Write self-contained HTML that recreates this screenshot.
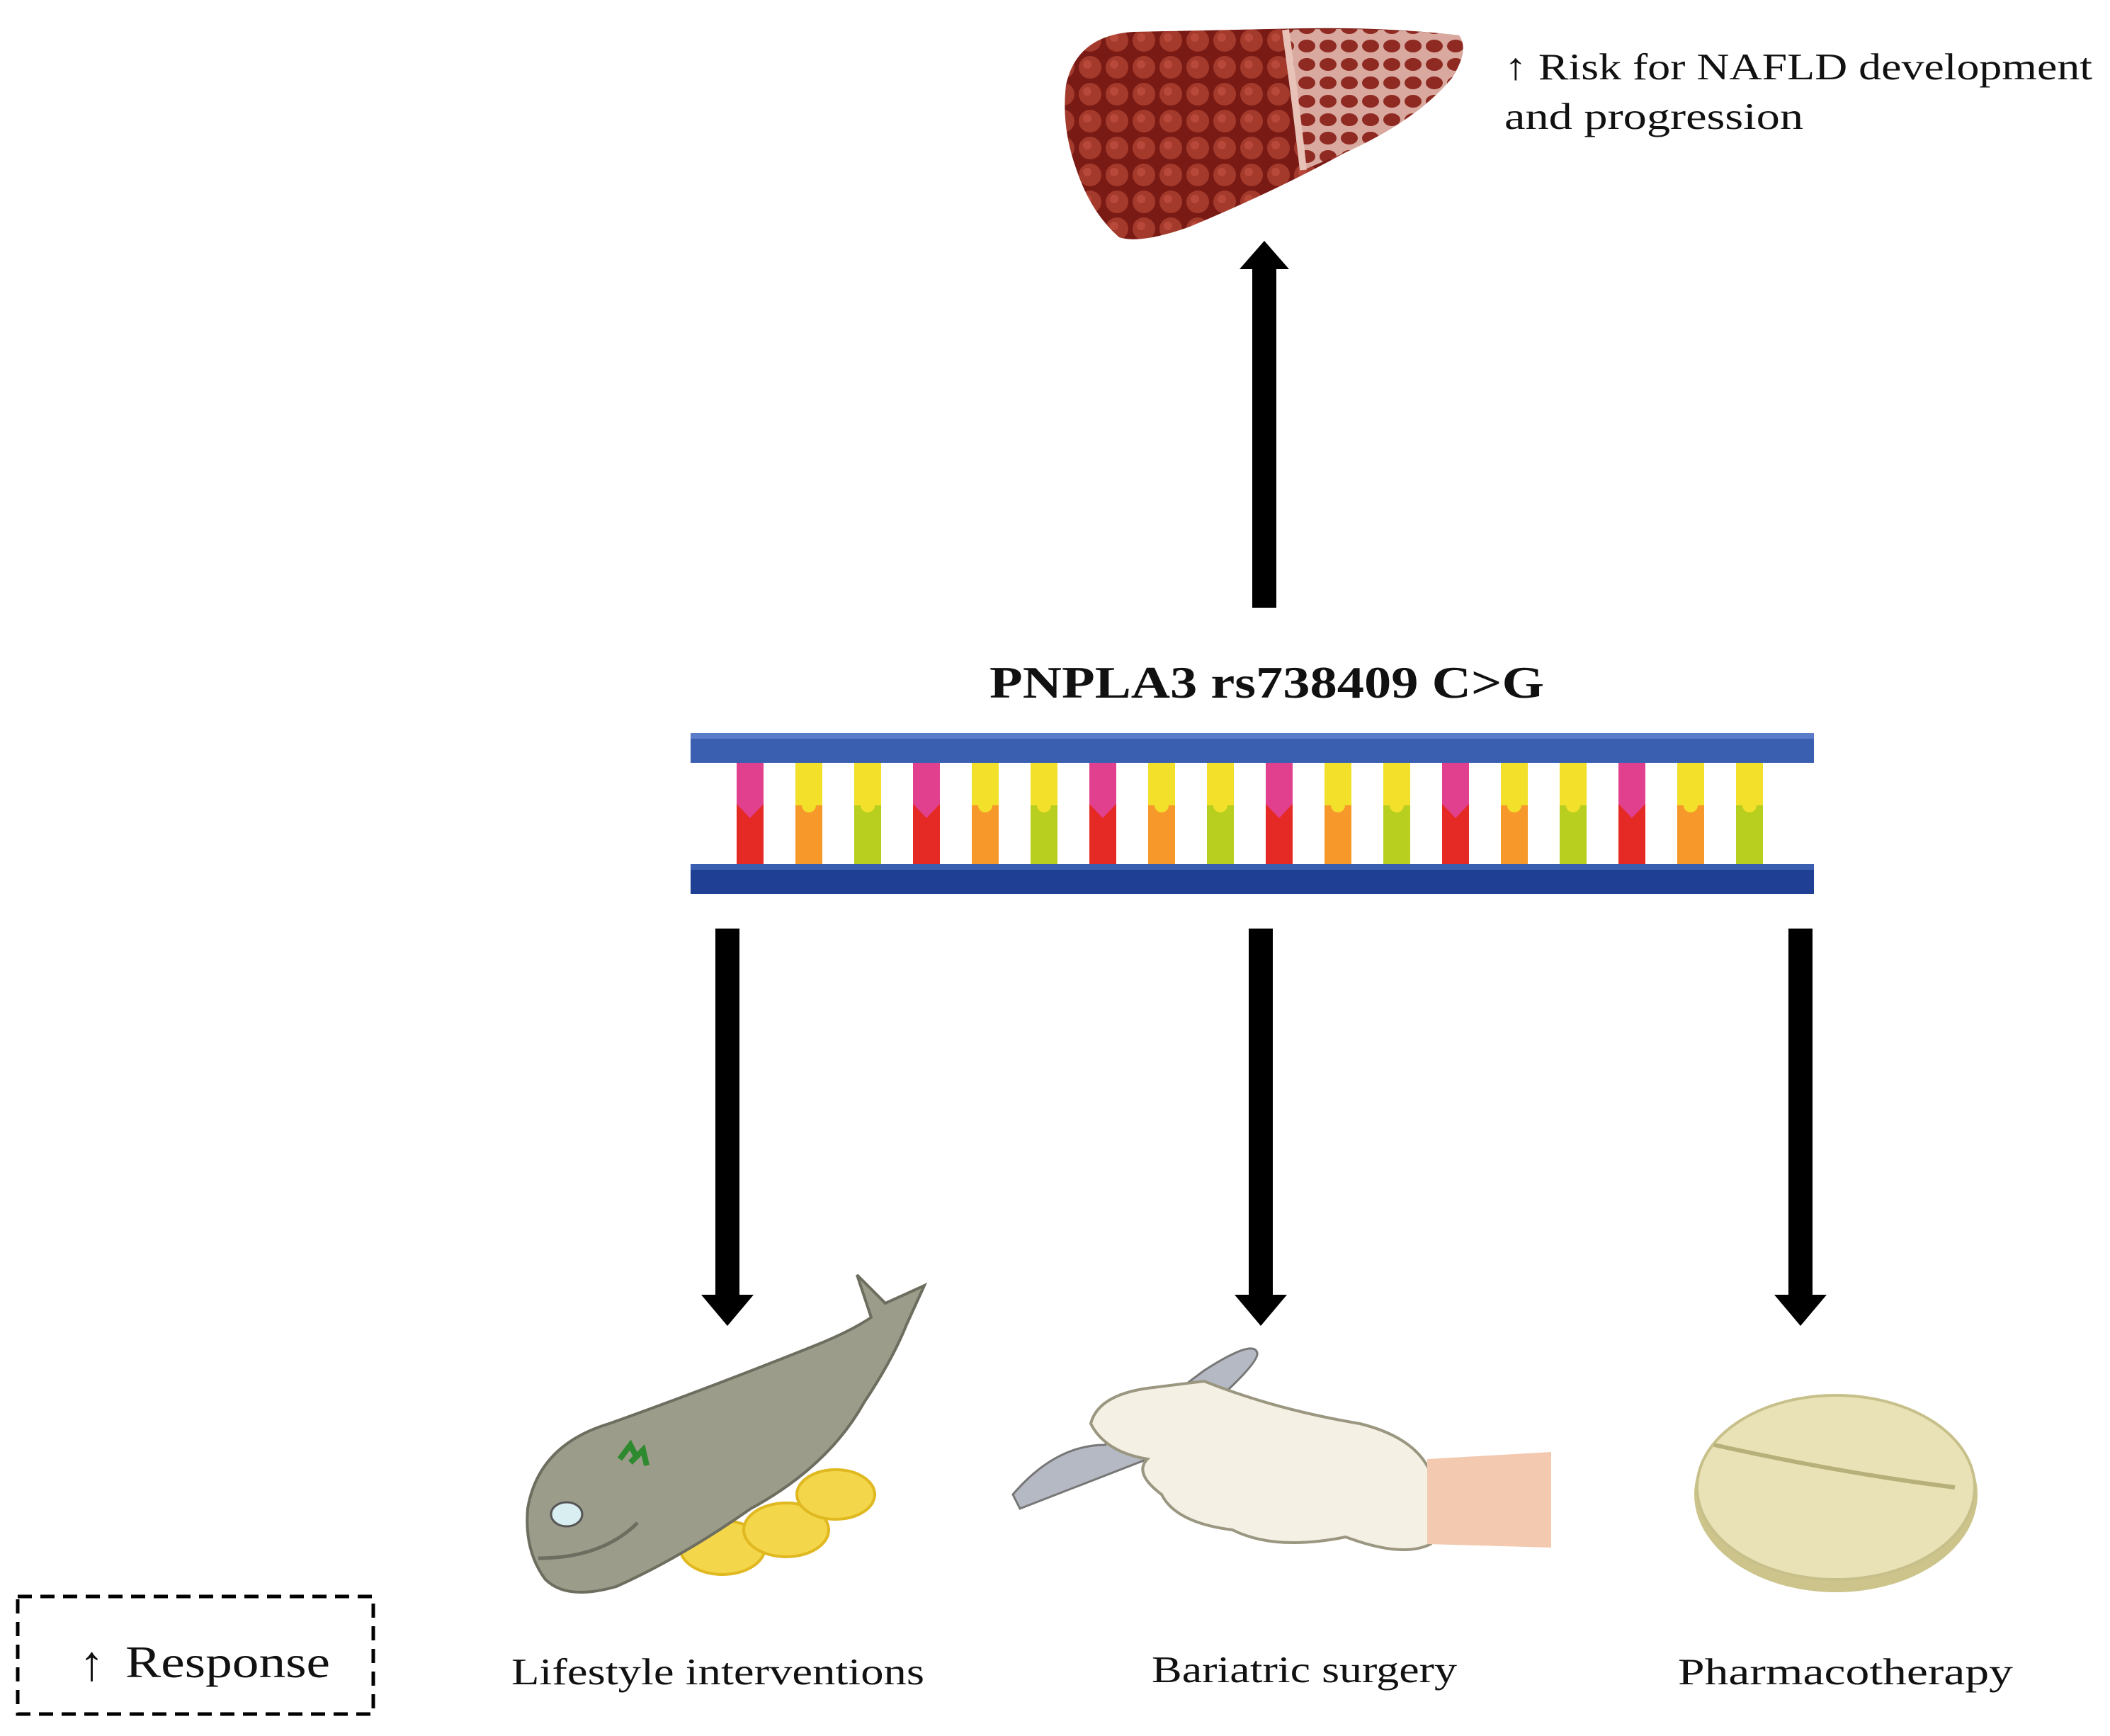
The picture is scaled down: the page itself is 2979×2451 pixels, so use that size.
<!DOCTYPE html>
<html><head><meta charset="utf-8"><style>
html,body{margin:0;padding:0;background:#fff;}
svg{display:block;}
text{font-family:"Liberation Serif",serif;fill:#111;}
</style></head><body>
<svg width="2979" height="2451" viewBox="0 0 2979 2451" xmlns="http://www.w3.org/2000/svg">
<defs>
<pattern id="lob" width="38" height="38" patternUnits="userSpaceOnUse">
<rect width="38" height="38" fill="#7a1a14"/>
<circle cx="19" cy="19" r="16" fill="#a33a2c"/>
<circle cx="15" cy="15" r="6" fill="#b8493a"/>
</pattern>
<pattern id="lob2" width="30" height="26" patternUnits="userSpaceOnUse">
<rect width="30" height="26" fill="#d9a9a0"/>
<ellipse cx="15" cy="13" rx="12" ry="9" fill="#8f2a22"/>
</pattern>
</defs>

<path d="M1505 120 Q1520 50 1600 45 L1840 40 Q1960 38 2060 50 Q2075 70 2050 110 Q2000 170 1900 215 Q1800 270 1680 320 Q1610 345 1580 335 Q1540 300 1520 240 Q1498 180 1505 120Z" fill="url(#lob)"/>
<path d="M1815 42 Q1960 38 2060 50 Q2075 70 2050 110 Q2000 170 1900 215 L1840 240 Q1830 150 1815 42Z" fill="url(#lob2)"/>
<path d="M1815 42 Q1830 150 1840 240" stroke="#e8c2b6" stroke-width="10" fill="none"/>

<text x="2124" y="112" font-size="53" textLength="830" lengthAdjust="spacingAndGlyphs">↑ Risk for NAFLD development</text>
<text x="2124" y="182" font-size="53" textLength="422" lengthAdjust="spacingAndGlyphs">and progression</text>

<rect x="1768" y="378" width="34" height="480" fill="#000"/>
<polygon points="1750,380 1820,380 1785,340" fill="#000"/>

<text x="1397" y="985" font-size="64" font-weight="bold" textLength="783" lengthAdjust="spacingAndGlyphs">PNPLA3 rs738409 C&gt;G</text>

<rect x="1010" y="1311" width="34" height="520" fill="#000"/>
<polygon points="990,1828 1064,1828 1027,1872" fill="#000"/>
<rect x="1763" y="1311" width="34" height="520" fill="#000"/>
<polygon points="1743,1828 1817,1828 1780,1872" fill="#000"/>
<rect x="2525" y="1311" width="34" height="520" fill="#000"/>
<polygon points="2505,1828 2579,1828 2542,1872" fill="#000"/>

<ellipse cx="1020" cy="2185" rx="60" ry="38" fill="#f3d64a" stroke="#e0b820" stroke-width="4"/>
<ellipse cx="1110" cy="2160" rx="60" ry="38" fill="#f3d64a" stroke="#e0b820" stroke-width="4"/>
<ellipse cx="1180" cy="2110" rx="55" ry="35" fill="#f3d64a" stroke="#e0b820" stroke-width="4"/>
<path d="M745 2130 Q760 2040 860 2010 Q1000 1960 1150 1900 Q1200 1880 1230 1860 L1210 1800 L1250 1840 L1305 1815 L1280 1870 Q1260 1920 1220 1980 Q1170 2070 1060 2130 Q960 2200 870 2240 Q800 2260 770 2230 Q740 2190 745 2130Z" fill="#9c9c8a" stroke="#6e6e60" stroke-width="4"/>
<path d="M760 2200 Q850 2200 900 2150" stroke="#6e6e60" stroke-width="5" fill="none"/>
<ellipse cx="800" cy="2138" rx="22" ry="17" fill="#d8eef0" stroke="#555" stroke-width="3"/>
<path d="M875 2060 l15 -20 l10 20 M890 2065 l18 -18 l5 22" stroke="#2e8a2e" stroke-width="8" fill="none"/>

<path d="M1430 2110 Q1490 2040 1560 2040 L1700 1935 Q1770 1890 1775 1910 Q1780 1930 1620 2060 L1440 2130Z" fill="#b5b9c4" stroke="#777" stroke-width="3"/>
<path d="M1540 2010 Q1550 1970 1620 1960 L1700 1950 Q1800 1990 1920 2010 Q2000 2030 2020 2080 L2020 2180 Q1980 2200 1900 2170 Q1800 2190 1740 2160 Q1660 2150 1640 2110 Q1600 2080 1620 2060 Q1560 2050 1540 2010Z" fill="#f4f1e4" stroke="#9a9680" stroke-width="4"/>
<path d="M2015 2060 L2190 2050 L2190 2185 L2015 2180Z" fill="#f3c9b0"/>

<ellipse cx="2592" cy="2110" rx="200" ry="138" fill="#ccc48a"/>
<ellipse cx="2592" cy="2100" rx="196" ry="130" fill="#e8e2b6" stroke="#c8c08a" stroke-width="4"/>
<path d="M2420 2040 Q2600 2080 2760 2100" stroke="#b8b07a" stroke-width="6" fill="none"/>

<text x="722" y="2378" font-size="53" textLength="583" lengthAdjust="spacingAndGlyphs">Lifestyle interventions</text>
<text x="1626" y="2375" font-size="53" textLength="431" lengthAdjust="spacingAndGlyphs">Bariatric surgery</text>
<text x="2369" y="2378" font-size="53" textLength="473" lengthAdjust="spacingAndGlyphs">Pharmacotherapy</text>

<rect x="25" y="2254" width="502" height="166" fill="none" stroke="#000" stroke-width="5" stroke-dasharray="20 12"/>
<text x="112" y="2372" font-size="70">↑</text>
<text x="177" y="2368" font-size="64" textLength="289" lengthAdjust="spacingAndGlyphs">Response</text>

<g>
<rect x="1040" y="1077" width="38" height="160" rx="8" fill="#e52a25"/><polygon points="1040,1077 1078,1077 1078,1135 1059,1155 1040,1135" fill="#e0408e"/>
<rect x="1123" y="1077" width="38" height="160" rx="8" fill="#f7982a"/><rect x="1123" y="1077" width="38" height="60" fill="#f2e02a"/><circle cx="1142" cy="1137" r="10" fill="#f2e02a"/>
<rect x="1206" y="1077" width="38" height="160" rx="8" fill="#b8cf1f"/><rect x="1206" y="1077" width="38" height="60" fill="#f2e02a"/><circle cx="1225" cy="1137" r="10" fill="#f2e02a"/>
<rect x="1289" y="1077" width="38" height="160" rx="8" fill="#e52a25"/><polygon points="1289,1077 1327,1077 1327,1135 1308,1155 1289,1135" fill="#e0408e"/>
<rect x="1372" y="1077" width="38" height="160" rx="8" fill="#f7982a"/><rect x="1372" y="1077" width="38" height="60" fill="#f2e02a"/><circle cx="1391" cy="1137" r="10" fill="#f2e02a"/>
<rect x="1455" y="1077" width="38" height="160" rx="8" fill="#b8cf1f"/><rect x="1455" y="1077" width="38" height="60" fill="#f2e02a"/><circle cx="1474" cy="1137" r="10" fill="#f2e02a"/>
<rect x="1538" y="1077" width="38" height="160" rx="8" fill="#e52a25"/><polygon points="1538,1077 1576,1077 1576,1135 1557,1155 1538,1135" fill="#e0408e"/>
<rect x="1621" y="1077" width="38" height="160" rx="8" fill="#f7982a"/><rect x="1621" y="1077" width="38" height="60" fill="#f2e02a"/><circle cx="1640" cy="1137" r="10" fill="#f2e02a"/>
<rect x="1704" y="1077" width="38" height="160" rx="8" fill="#b8cf1f"/><rect x="1704" y="1077" width="38" height="60" fill="#f2e02a"/><circle cx="1723" cy="1137" r="10" fill="#f2e02a"/>
<rect x="1787" y="1077" width="38" height="160" rx="8" fill="#e52a25"/><polygon points="1787,1077 1825,1077 1825,1135 1806,1155 1787,1135" fill="#e0408e"/>
<rect x="1870" y="1077" width="38" height="160" rx="8" fill="#f7982a"/><rect x="1870" y="1077" width="38" height="60" fill="#f2e02a"/><circle cx="1889" cy="1137" r="10" fill="#f2e02a"/>
<rect x="1953" y="1077" width="38" height="160" rx="8" fill="#b8cf1f"/><rect x="1953" y="1077" width="38" height="60" fill="#f2e02a"/><circle cx="1972" cy="1137" r="10" fill="#f2e02a"/>
<rect x="2036" y="1077" width="38" height="160" rx="8" fill="#e52a25"/><polygon points="2036,1077 2074,1077 2074,1135 2055,1155 2036,1135" fill="#e0408e"/>
<rect x="2119" y="1077" width="38" height="160" rx="8" fill="#f7982a"/><rect x="2119" y="1077" width="38" height="60" fill="#f2e02a"/><circle cx="2138" cy="1137" r="10" fill="#f2e02a"/>
<rect x="2202" y="1077" width="38" height="160" rx="8" fill="#b8cf1f"/><rect x="2202" y="1077" width="38" height="60" fill="#f2e02a"/><circle cx="2221" cy="1137" r="10" fill="#f2e02a"/>
<rect x="2285" y="1077" width="38" height="160" rx="8" fill="#e52a25"/><polygon points="2285,1077 2323,1077 2323,1135 2304,1155 2285,1135" fill="#e0408e"/>
<rect x="2368" y="1077" width="38" height="160" rx="8" fill="#f7982a"/><rect x="2368" y="1077" width="38" height="60" fill="#f2e02a"/><circle cx="2387" cy="1137" r="10" fill="#f2e02a"/>
<rect x="2451" y="1077" width="38" height="160" rx="8" fill="#b8cf1f"/><rect x="2451" y="1077" width="38" height="60" fill="#f2e02a"/><circle cx="2470" cy="1137" r="10" fill="#f2e02a"/>
</g>
<rect x="975" y="1035" width="1586" height="42" fill="#3a5fb0"/>
<rect x="975" y="1035" width="1586" height="8" fill="#5b7cc8"/>
<rect x="975" y="1220" width="1586" height="42" fill="#1f3f95"/>
<rect x="975" y="1220" width="1586" height="8" fill="#3a5fb0"/>
</svg>
</body></html>
